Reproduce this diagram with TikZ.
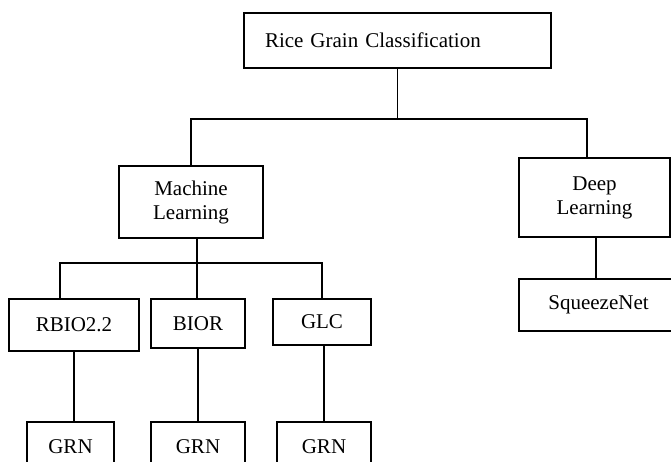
\documentclass[tikz,border=0pt]{standalone}
\usepackage{fontspec}
\setmainfont{Liberation Serif}
\usetikzlibrary{positioning}

\tikzset{
  blk/.style={draw, line width=1.5pt, align=center, inner sep=2pt,
    font=\fontsize{21}{24}\selectfont},
  con/.style={line width=1.5pt}
}

\begin{document}
\begin{tikzpicture}[x=1pt,y=-1pt]
\useasboundingbox (0,0) rectangle (671,461);
\clip (0,0) rectangle (671,461);
% top box
\node[blk, minimum width=307pt, minimum height=55pt, text width=265pt, align=left, inner xsep=21pt] (box_rice) at (397.5,40.5) {Rice Grain Classification};
% Level 1 boxes
\node[blk, minimum width=144pt, minimum height=72pt] (box_ml) at (191,202) {Machine\\Learning};
\node[blk, minimum width=151pt, minimum height=79pt] (box_dl) at (594.5,197.5) {Deep\\Learning};
% Level 2 boxes
\node[blk, minimum width=130pt, minimum height=52pt] (box_rbio) at (74,325) {RBIO2.2};
\node[blk, minimum width=94pt, minimum height=49pt] (box_bior) at (198,323.5) {BIOR};
\node[blk, minimum width=98pt, minimum height=46pt] (box_glc) at (322,322) {GLC};
\node[blk, minimum width=159pt, minimum height=52pt] (box_sq) at (598.5,305) {SqueezeNet};
% Level 3 boxes
\node[blk, minimum width=87pt, minimum height=50pt] (box_grn1) at (70.5,447) {GRN};
\node[blk, minimum width=94pt, minimum height=50pt] (box_grn2) at (198,447) {GRN};
\node[blk, minimum width=94pt, minimum height=50pt] (box_grn3) at (324,447) {GRN};
% junctions
\coordinate (hub_top) at (397.5,119);
\coordinate (hub_ml) at (197,263);
% top level lines
\draw[con] (box_rice.south) -- (hub_top);
\draw[con] (box_ml.north) |- (hub_top) -| ([xshift=-7.5pt]box_dl.north);
% machine learning lines
\draw[con] ([xshift=6pt]box_ml.south) -- (hub_ml);
\draw[con] ([xshift=-14pt]box_rbio.north) |- (hub_ml) -| (box_glc.north);
\draw[con] (hub_ml) -- (box_bior.north -| hub_ml);
\draw[con] (box_rbio.south) -- (box_rbio.south |- box_grn1.north);
\draw[con] (box_bior.south) -- (box_grn2.north);
\draw[con] ([xshift=2pt]box_glc.south) -- ([xshift=2pt]box_glc.south |- box_grn3.north);
% deep learning line
\draw[con] ([xshift=1.5pt]box_dl.south) -- ([xshift=1.5pt]box_dl.south |- box_sq.north);
\end{tikzpicture}
\end{document}
